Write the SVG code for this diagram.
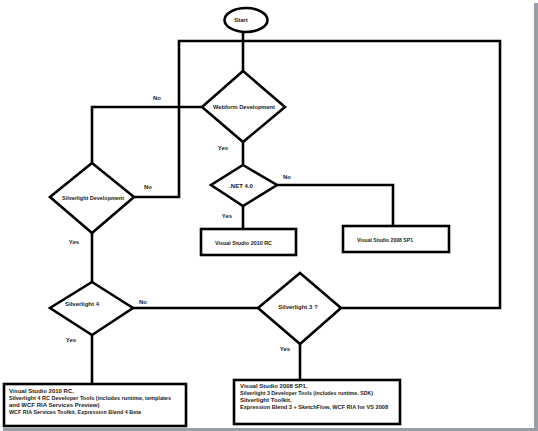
<svg xmlns="http://www.w3.org/2000/svg" width="538" height="431" viewBox="0 0 538 431">
<style>
.s{fill:none;stroke:#000;stroke-width:2.6;stroke-linejoin:miter}
.n{fill:#fff;stroke:#000;stroke-width:2.6}
text{font-family:"Liberation Sans",Arial,sans-serif;font-weight:bold;font-size:6px;fill:#222}
.c{text-anchor:middle}
</style>
<rect width="538" height="431" fill="#fff"/>
<g id="shadow">
<rect x="534" y="3" width="4" height="428" fill="#9a9ea6"/>
<rect x="3" y="428" width="535" height="3" fill="#9a9ea6"/>
</g>
<g id="connectors">
<polyline class="s" points="243,32 243,71"/>
<polyline class="s" points="134,197 179,197 179,41 500,41 500,308 341,308"/>
<polyline class="s" points="202,107 92,107 92,163"/>
<polyline class="s" points="243,142 243,165"/>
<polyline class="s" points="243,206 243,229"/>
<polyline class="s" points="277,185 393,185 393,226"/>
<polyline class="s" points="92,233 92,282"/>
<polyline class="s" points="92,335 92,384"/>
<polyline class="s" points="133,308 258,308"/>
<polyline class="s" points="300,344 300,381"/>
<text class="c" x="157" y="100">No</text>
<text class="c" x="148" y="189">No</text>
<text class="c" x="223" y="150">Yes</text>
<text class="c" x="74" y="244">Yes</text>
<text class="c" x="287" y="179">No</text>
<text class="c" x="227" y="218">Yes</text>
<text class="c" x="143" y="304">No</text>
<text class="c" x="71" y="342">Yes</text>
<text class="c" x="285" y="351">Yes</text>
</g>
<g id="start">
<ellipse class="n" cx="246" cy="20" rx="21.5" ry="12"/>
<text class="c" x="241" y="22">Start</text>
</g>
<g id="webform">
<polygon class="n" points="243,71 285,107 243,142 202,107"/>
<text class="c" x="244" y="109" textLength="62" lengthAdjust="spacingAndGlyphs">Webform Development</text>
</g>
<g id="silverlight-dev">
<polygon class="n" points="92,163 134,197 92,233 50,197"/>
<text class="c" x="93" y="200" textLength="62" lengthAdjust="spacingAndGlyphs">Silverlight Development</text>
</g>
<g id="net40">
<polygon class="n" points="243,165 277,185 243,206 211,185"/>
<text class="c" x="241" y="188">.NET 4.0</text>
</g>
<g id="vs2010rc">
<rect class="n" x="201" y="229" width="95" height="26"/>
<text x="215" y="245" textLength="57" lengthAdjust="spacingAndGlyphs">Visual Studio 2010 RC</text>
</g>
<g id="vs2008sp1">
<rect class="n" x="343" y="226" width="106" height="26"/>
<text x="357" y="242" textLength="56" lengthAdjust="spacingAndGlyphs">Visual Studio 2008 SP1</text>
</g>
<g id="silverlight4">
<polygon class="n" points="92,282 133,308 92,335 50,308"/>
<text class="c" x="82" y="306">Silverlight 4</text>
</g>
<g id="silverlight3">
<polygon class="n" points="300,273 341,308 300,344 258,308"/>
<text class="c" x="298" y="309">Silverlight 3 ?</text>
</g>
<g id="sl4-tools">
<rect class="n" x="4" y="384" width="182" height="42"/>
<text x="9" y="393">Visual Studio 2010 RC,</text>
<text x="9" y="400" textLength="162" lengthAdjust="spacingAndGlyphs">Silverlight 4 RC Developer Tools (includes runtime, templates</text>
<text x="9" y="407">and WCF RIA Services Preview)</text>
<text x="9" y="414" textLength="132" lengthAdjust="spacingAndGlyphs">WCF RIA Services Toolkit, Expression Blend 4 Beta</text>
</g>
<g id="sl3-tools">
<rect class="n" x="234" y="380" width="166" height="44"/>
<text x="240" y="388">Visual Studio 2008 SP1,</text>
<text x="240" y="395" textLength="133" lengthAdjust="spacingAndGlyphs">Silverlight 3 Developer Tools (includes runtime, SDK)</text>
<text x="240" y="402">Silverlight Toolkit,</text>
<text x="240" y="409" textLength="148" lengthAdjust="spacingAndGlyphs">Expression Blend 3 + SketchFlow, WCF RIA for VS 2008</text>
</g>
</svg>
